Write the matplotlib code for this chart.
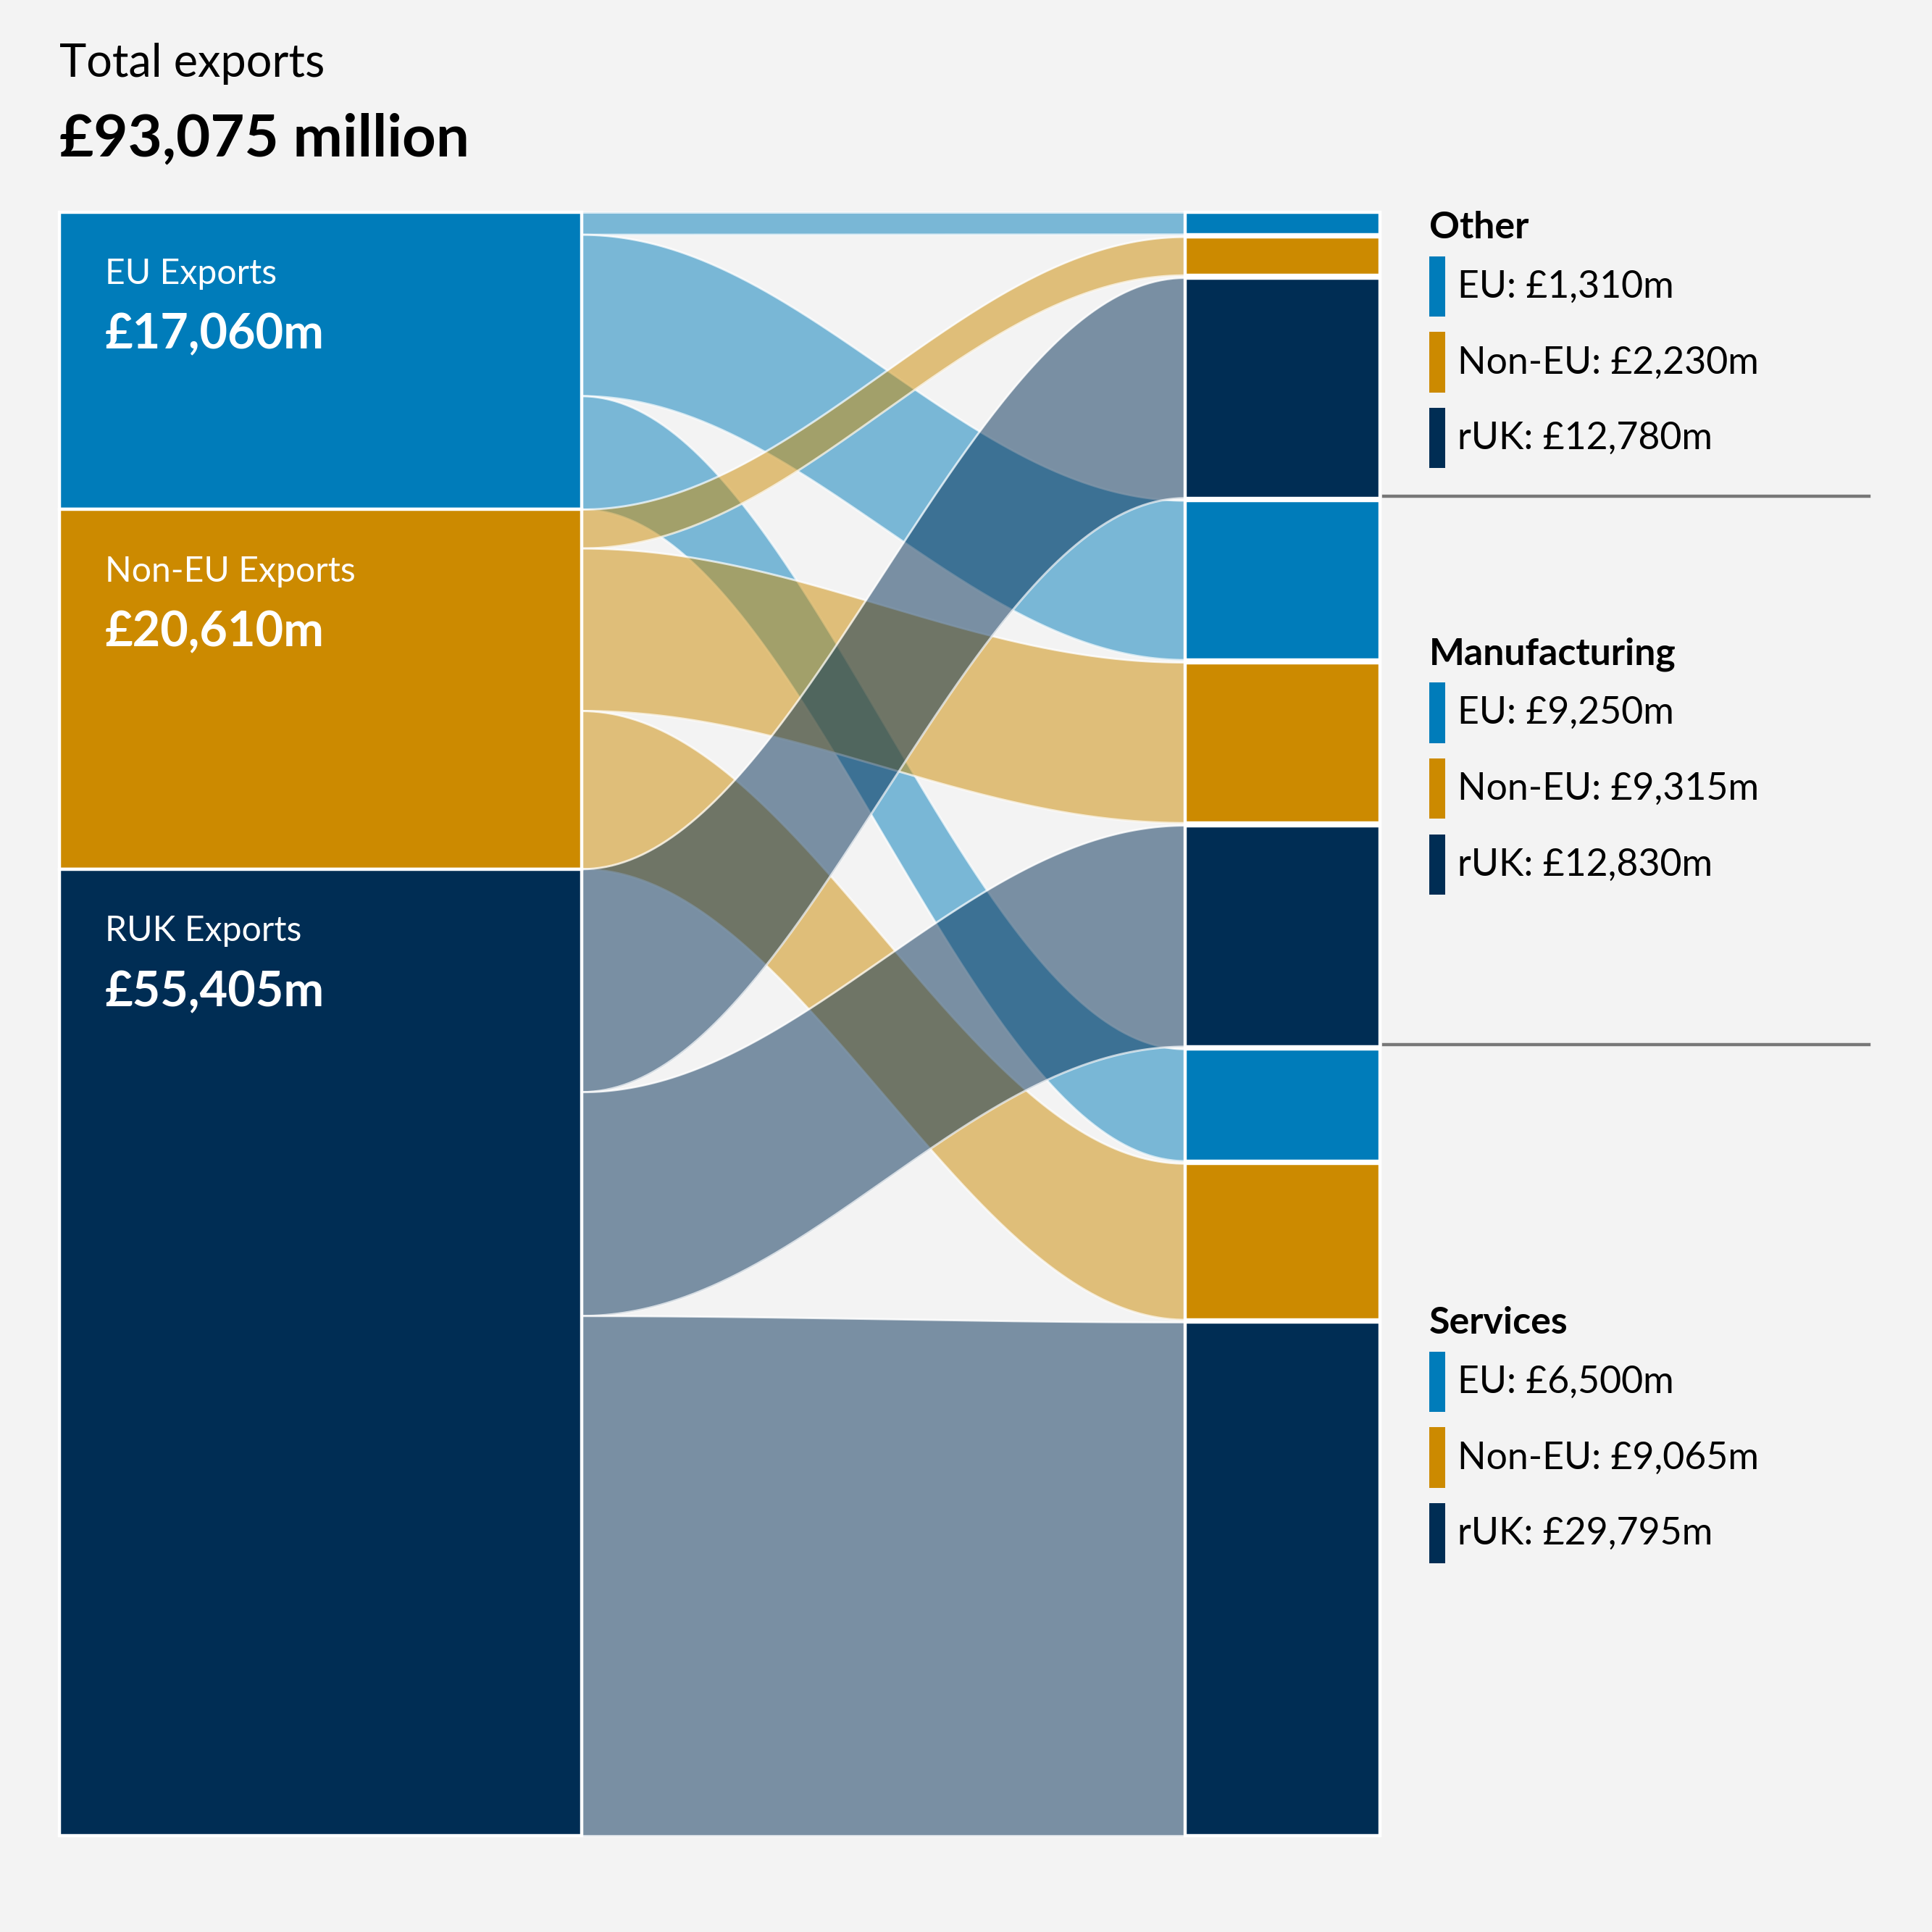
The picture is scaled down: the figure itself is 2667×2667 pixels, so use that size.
import numpy as np
import matplotlib.pyplot as plt

plt.rcParams['font.family'] = ['Lato', 'DejaVu Sans']

sources = ["EU", "Non-EU", "RUK"]
source_labels = ["EU Exports", "Non-EU Exports", "RUK Exports"]
sectors = ["Other", "Manufacturing", "Services"]
# flows[sector][source] in £m
flows = {
    "Other": [1310, 2230, 12780],
    "Manufacturing": [9250, 9315, 12830],
    "Services": [6500, 9065, 29795],
}
legend_names = ["EU", "Non-EU", "rUK"]
colors = ["#007cba", "#cc8a00", "#002d54"]
bg = "#f3f3f3"

total = sum(sum(v) for v in flows.values())
src_totals = [sum(flows[s][i] for s in sectors) for i in range(3)]

fig = plt.figure(figsize=(10, 10), dpi=266.7, facecolor=bg)
ax = fig.add_axes([0, 0, 1, 1])
ax.set_facecolor(bg)
ax.set_xlim(0, 1568)
ax.set_ylim(1568, 0)
ax.axis("off")

top, bottom = 172, 1490
lx0, lx1 = 48, 472
rx0, rx1 = 962, 1120
gap = 2
kl = (bottom - top) / total
kr = (bottom - top - 8 * gap) / total

# left nodes
src_y = []
y = top
for i in range(3):
    h = src_totals[i] * kl
    ax.add_patch(plt.Rectangle((lx0, y), lx1 - lx0, h, fc=colors[i], ec="white", lw=1.2, zorder=3))
    src_y.append(y)
    y += h

# right nodes
tgt_y = {}
y = top
for s in sectors:
    for i in range(3):
        h = flows[s][i] * kr
        ax.add_patch(plt.Rectangle((rx0, y), rx1 - rx0, h, fc=colors[i], ec="white", lw=1.2, zorder=3))
        tgt_y[(s, i)] = (y, h)
        y += h + gap

# links
t = np.linspace(0, 1, 200)
sm = (1 - np.cos(np.pi * t)) / 2
xs = lx1 + t * (rx0 - lx1)
for i in range(3):
    y = src_y[i]
    for s in sectors:
        hl = flows[s][i] * kl
        ry, rh = tgt_y[(s, i)]
        upper = y + (ry - y) * sm
        lower = (y + hl) + (ry + rh - y - hl) * sm
        ax.fill_between(xs, upper, lower, color=colors[i], alpha=0.5, lw=0, zorder=2)
        ax.plot(xs, upper, color="white", lw=0.8, alpha=0.7, zorder=2)
        ax.plot(xs, lower, color="white", lw=0.8, alpha=0.7, zorder=2)
        y += hl

# node labels
for i in range(3):
    ax.text(85, src_y[i] + 50, source_labels[i], color="white", fontsize=13, va="center", zorder=4)
    ax.text(85, src_y[i] + 100, "£{:,}m".format(src_totals[i]), color="white", fontsize=18,
            fontweight="bold", va="center", zorder=4)

# title
ax.text(48, 52, "Total exports", fontsize=17, va="center")
ax.text(48, 113, "£{:,} million".format(total), fontsize=22, fontweight="bold", va="center")

# legend
header_y = [185, 531, 1074]
for s, hy in zip(sectors, header_y):
    ax.text(1160, hy, s, fontsize=14, fontweight="bold", va="center")
    for i in range(3):
        sy = hy + 23 + i * 61.5
        ax.add_patch(plt.Rectangle((1160, sy), 13, 49, fc=colors[i], lw=0))
        ax.text(1183, sy + 25, "{}: £{:,}m".format(legend_names[i], flows[s][i]), fontsize=14, va="center")

for yy in [403, 848]:
    ax.plot([1123, 1517], [yy, yy], color="#777777", lw=1.2)

fig.savefig("out.png", dpi=266.7, facecolor=bg)
